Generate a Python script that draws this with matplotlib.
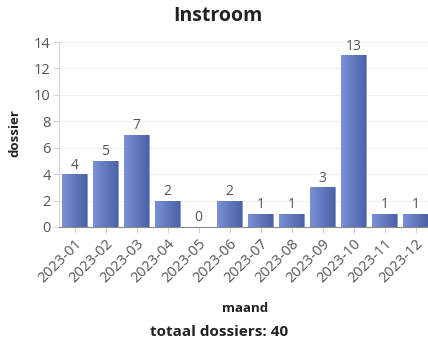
import numpy as np
import matplotlib
matplotlib.use("Agg")
import matplotlib.pyplot as plt
from matplotlib.colors import LinearSegmentedColormap

plt.rcParams['font.family'] = ['Open Sans', 'DejaVu Sans']

maanden = ["2023-01", "2023-02", "2023-03", "2023-04", "2023-05", "2023-06",
           "2023-07", "2023-08", "2023-09", "2023-10", "2023-11", "2023-12"]
aantallen = [4, 5, 7, 2, 0, 2, 1, 1, 3, 13, 1, 1]
totaal = sum(aantallen)

W, H = 428, 345
fig = plt.figure(figsize=(W / 100, H / 100), dpi=100)
ax = fig.add_axes([59 / W, 1 - 227 / H, 372 / W, 185 / H])

x = np.arange(len(maanden))
bars = ax.bar(x, aantallen, width=0.8, color="#5f76c0", edgecolor="#8a97c4",
              linewidth=0.6, zorder=3)

# horizontal gradient on each bar, light left to dark right
grad = LinearSegmentedColormap.from_list("bar", ["#7b91d6", "#6178c0", "#4c62a8"])
g = np.linspace(0, 1, 64).reshape(1, -1)
for b in bars:
    if b.get_height() <= 0:
        continue
    x0, w, h = b.get_x(), b.get_width(), b.get_height()
    im = ax.imshow(g, cmap=grad, extent=[x0, x0 + w, 0, h], aspect="auto",
                   interpolation="bilinear", zorder=3.5)
    im.set_clip_path(b)

for xi, v in zip(x, aantallen):
    ax.text(xi, v + 0.12, str(v), ha="center", va="bottom", fontsize=10,
            color="#555555", zorder=5)

ax.set_xlim(-0.5, len(maanden) - 0.5)
ax.set_ylim(0, 14)
ax.set_yticks(range(0, 15, 2))
ax.set_xticks(x)
ax.set_xticklabels(maanden, rotation=45, ha="right", rotation_mode="anchor")
ax.tick_params(axis="both", labelsize=10.5, length=4, width=0.6)
ax.tick_params(axis="x", colors="#cccccc", labelcolor="#555555", pad=3)
ax.tick_params(axis="y", colors="#cccccc", labelcolor="#555555", pad=2)
ax.grid(axis="y", color="#f0f0f0", linewidth=0.7, zorder=0)

for s in ["top", "right"]:
    ax.spines[s].set_visible(False)
ax.spines["left"].set_color("#cccccc")
ax.spines["left"].set_linewidth(0.6)
ax.spines["bottom"].set_color("#888888")
ax.spines["bottom"].set_linewidth(0.8)
ax.spines["bottom"].set_zorder(4)

fig.text(218 / W, 1 - 16 / H, "Instroom", ha="center", va="center",
         fontsize=14, fontweight="bold", color="#222222")
fig.text(15 / W, 1 - 133 / H, "dossier", ha="center", va="center", rotation=90,
         fontsize=9.5, fontweight="bold", color="#222222")
fig.text(245 / W, 1 - 308 / H, "maand", ha="center", va="center",
         fontsize=9.5, fontweight="bold", color="#222222")
fig.text(219 / W, 1 - 332 / H, f"totaal dossiers: {totaal}",
         ha="center", va="center", fontsize=11, fontweight="bold",
         color="#222222")

fig.savefig("out.png", dpi=100)
